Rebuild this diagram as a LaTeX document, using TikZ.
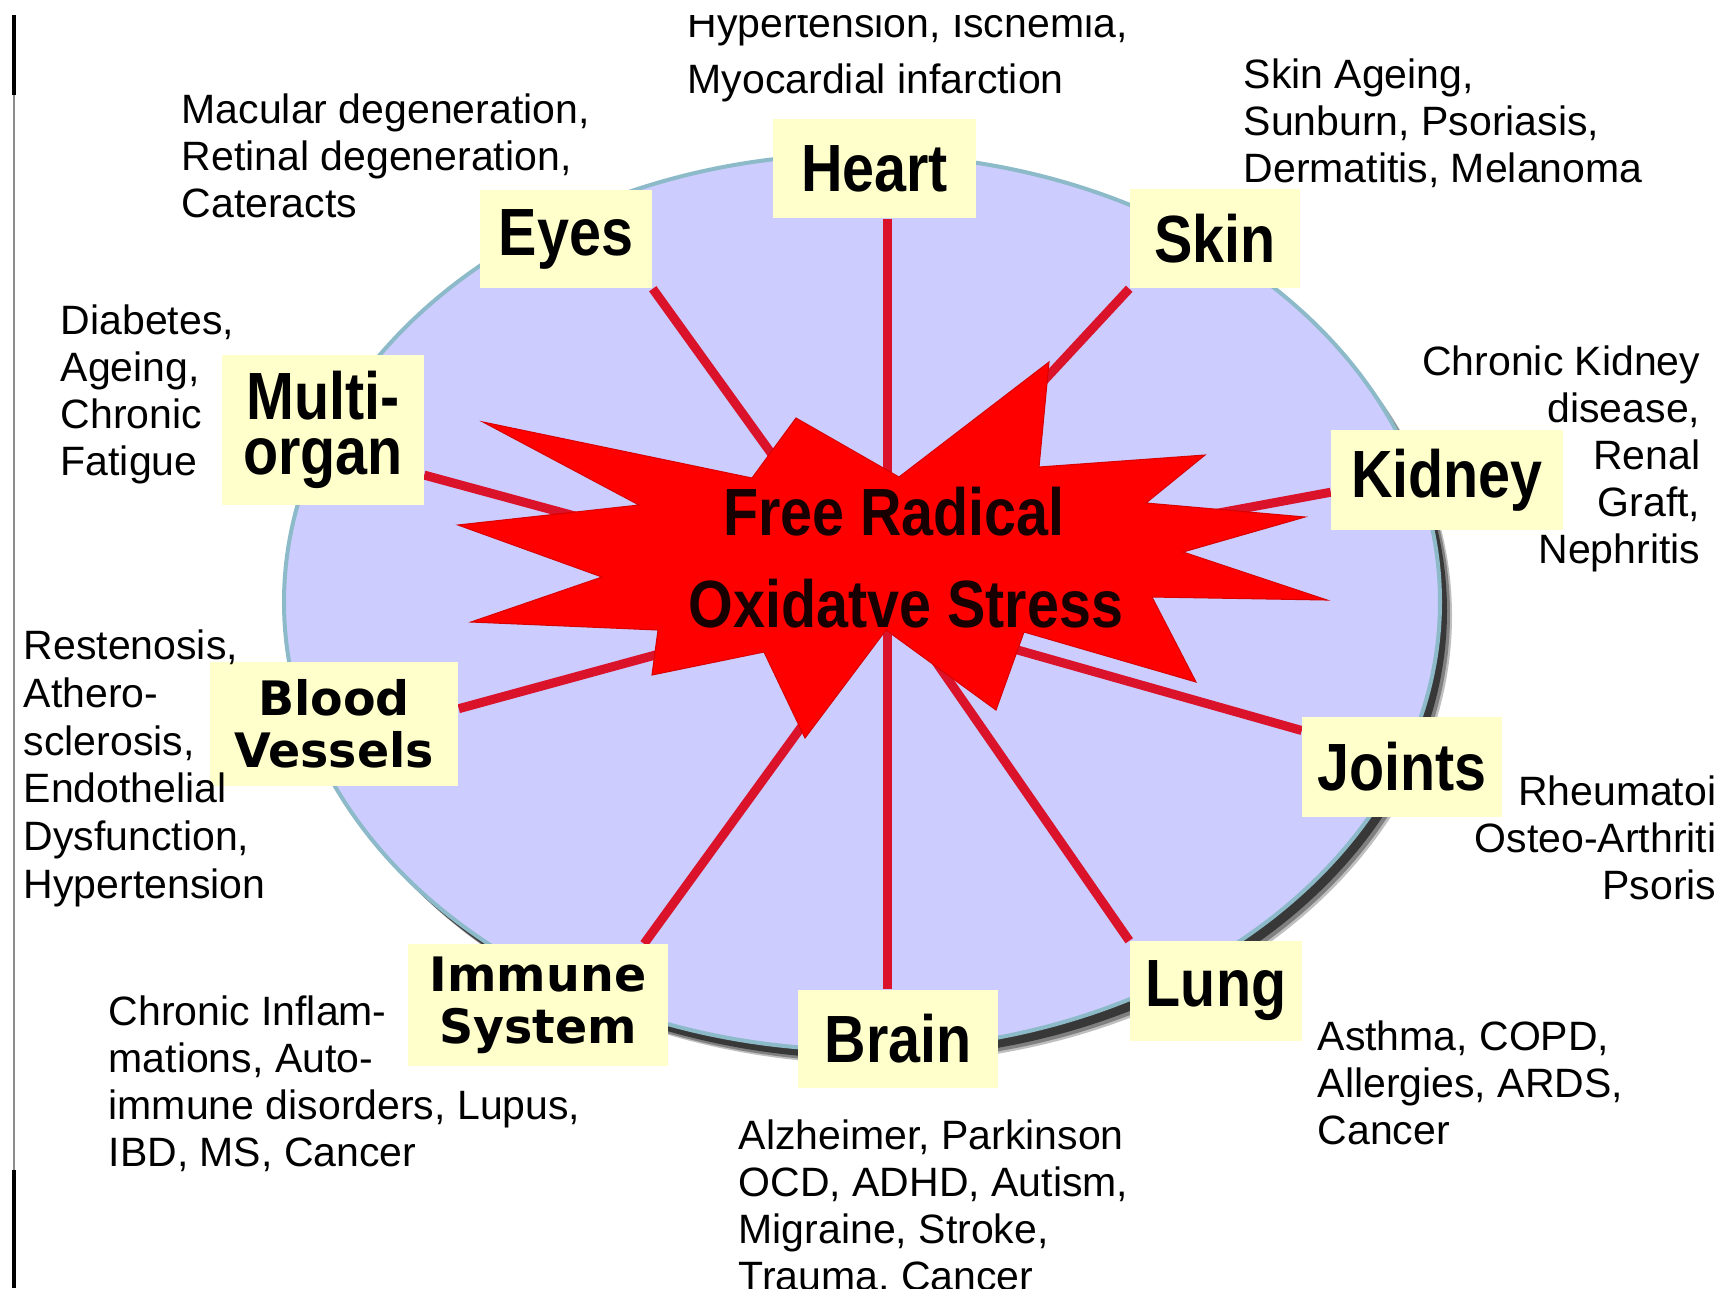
\documentclass[tikz,border=0pt]{standalone}
\usepackage{fontspec}
\setmainfont{Liberation Sans}
\newfontfamily\lblfont[FakeStretch=0.86]{Liberation Sans Bold}
\newfontfamily\wdfont{DejaVu Sans Bold}
\definecolor{ellfill}{RGB}{204,204,255}
\definecolor{elldraw}{RGB}{140,186,200}
\definecolor{boxfill}{RGB}{255,255,204}
\definecolor{linecol}{RGB}{218,18,42}
\definecolor{starcol}{RGB}{255,0,0}
\definecolor{startext}{RGB}{25,0,0}
\pgfdeclarelayer{ell}
\pgfdeclarelayer{spokes}
\pgfsetlayers{ell,spokes,main}
\begin{document}
\begin{tikzpicture}[x=0.01cm,y=-0.01cm,
  organ/.style={fill=boxfill, inner sep=0, align=center, font=\lblfont\fontsize{19pt}{15.5pt}\selectfont},
  organw/.style={fill=boxfill, inner sep=0, align=center, font=\wdfont\fontsize{13.5pt}{14.8pt}\selectfont},
  disease/.style={inner sep=0, font=\fontsize{11.66pt}{13.37pt}\selectfont},
  spoke/.style={draw=linecol, line width=2.56pt},
]
\useasboundingbox (0,0) rectangle (1723,1293);
\begin{pgfonlayer}{ell}
  \fill[white] (0,0) rectangle (1723,1293);
  \fill[black!25] (874,616) ellipse [x radius=578, y radius=448];
  \fill[black!50] (872,614) ellipse [x radius=578, y radius=448];
  \fill[black!78] (869,611) ellipse [x radius=578, y radius=448];
  \filldraw[fill=ellfill, draw=elldraw, line width=1.14pt] (862,602) ellipse [x radius=578, y radius=448];
\end{pgfonlayer}

% left frame line
\draw[black!45, line width=0.7pt] (14,15) -- (14,1288);
\draw[black, line width=0.9pt] (14,15) -- (14,95);
\draw[black, line width=0.9pt] (14,1170) -- (14,1288);

\begin{scope}
\clip (0,15) rectangle (1716,1288);

% organ boxes
\node[organ, minimum width=2.03cm, minimum height=0.99cm] (heart) at (874.5,168.5) {Heart};
\node[organ, minimum width=1.72cm, minimum height=0.98cm] (eyes) at (566,239) {Eyes};
\node[organ, minimum width=1.70cm, minimum height=0.99cm] (skin) at (1215,238.5) {Skin};
\node[organ, minimum width=2.01cm, minimum height=1.50cm] (multi) at (323,430) {Multi-\\organ};
\node[organ, minimum width=2.31cm, minimum height=1.00cm] (kidney) at (1447,480) {Kidney};
\node[organw, minimum width=2.48cm, minimum height=1.24cm] (blood) at (334,724) {Blood\\Vessels};
\node[organ, minimum width=1.99cm, minimum height=1.00cm] (joints) at (1402,767) {Joints};
\node[organw, minimum width=2.59cm, minimum height=1.21cm] (immune) at (538,1005) {Immune\\System};
\node[organ, minimum width=2.00cm, minimum height=0.98cm] (brain) at (898,1039) {Brain};
\node[organ, minimum width=1.72cm, minimum height=0.99cm] (lung) at (1216,991) {Lung};

% spoke ends hidden under the star
\coordinate (hub) at (887,560);
\coordinate (eyesE) at (830,535);
\coordinate (skinE) at (960,471);
\coordinate (multiE) at (700,550);
\coordinate (kidneyE) at (1100,535);
\coordinate (bloodE) at (780,621);
\coordinate (jointsE) at (940,628);
\coordinate (immuneE) at (850,660);
\coordinate (lungE) at (900,610);

\begin{pgfonlayer}{spokes}
  \draw[spoke] (hub |- heart.south) -- (hub |- brain.north);
  \draw[spoke] (eyes.south east) -- (eyesE);
  \draw[spoke] (skin.south west) -- (skinE);
  \draw[spoke] (multi.-24) -- (multiE);
  \draw[spoke] (kidney.186.4) -- (kidneyE);
  \draw[spoke] (blood.7) -- (bloodE);
  \draw[spoke] (joints.160) -- (jointsE);
  \draw[spoke] (immune.30.5) -- (immuneE);
  \draw[spoke] (lung.north west) -- (lungE);
\end{pgfonlayer}

% the star
\filldraw[fill=starcol, draw=red!85!black, line width=0.3pt, line join=miter]
  (483,422) -- (752,478) -- (796,418) -- (899,477) -- (1049,362) -- (1039,467)
  -- (1205,455) -- (1146,503) -- (1305,517) -- (1183,552) -- (1327,600)
  -- (1152,597) -- (1196,682) -- (1024,632) -- (996,710) -- (886,630)
  -- (805,738) -- (764,652) -- (652,675) -- (658,630) -- (471,622)
  -- (602,577) -- (458,525) -- (639,505) -- cycle;
\node[inner sep=0, anchor=north, align=center, text=startext,
  font=\lblfont\fontsize{19pt}{26.2pt}\selectfont] (fr) at (900,486)
  {Free Radical\hspace*{0.12cm}\\\hspace*{0.12cm}Oxidatve Stress};

% disease texts
\node[disease, anchor=north west, align=left, font=\fontsize{11.66pt}{15.93pt}\selectfont]
  (heartTxt) at (687,7) {Hypertension, Ischemia,\\Myocardial infarction};
\node[disease, anchor=north west, align=left] (eyesTxt) at (181,93)
  {Macular degeneration,\\Retinal degeneration,\\Cateracts};
\node[disease, anchor=north west, align=left] (skinTxt) at (1243,58)
  {Skin Ageing,\\Sunburn, Psoriasis,\\Dermatitis, Melanoma};
\node[disease, anchor=north west, align=left] (multiTxt) at (60,304)
  {Diabetes,\\Ageing,\\Chronic\\Fatigue};
\node[disease, anchor=north east, align=right] (kidneyTxt) at (1701,345)
  {Chronic Kidney\\disease,\\Renal\\Graft,\\Nephritis};
\node[disease, anchor=north west, align=left, font=\fontsize{11.66pt}{13.6pt}\selectfont]
  (bloodTxt) at (23,629)
  {Restenosis,\\Athero-\\sclerosis,\\Endothelial\\Dysfunction,\\Hypertension};
\node[disease, anchor=north east, align=right] (jointsTxt) at (1717,775)
  {Rheumatoi\\Osteo-Arthriti\\Psoris};
\node[disease, anchor=north west, align=left] (immuneTxt) at (108,995)
  {Chronic Inflam-\\mations, Auto-\\immune disorders, Lupus,\\IBD, MS, Cancer};
\node[disease, anchor=north west, align=left] (brainTxt) at (738,1119)
  {Alzheimer, Parkinson\\OCD, ADHD, Autism,\\Migraine, Stroke,\\Trauma, Cancer};
\node[disease, anchor=north west, align=left] (lungTxt) at (1317,1020)
  {Asthma, COPD,\\Allergies, ARDS,\\Cancer};
\end{scope}
\end{tikzpicture}
\end{document}
